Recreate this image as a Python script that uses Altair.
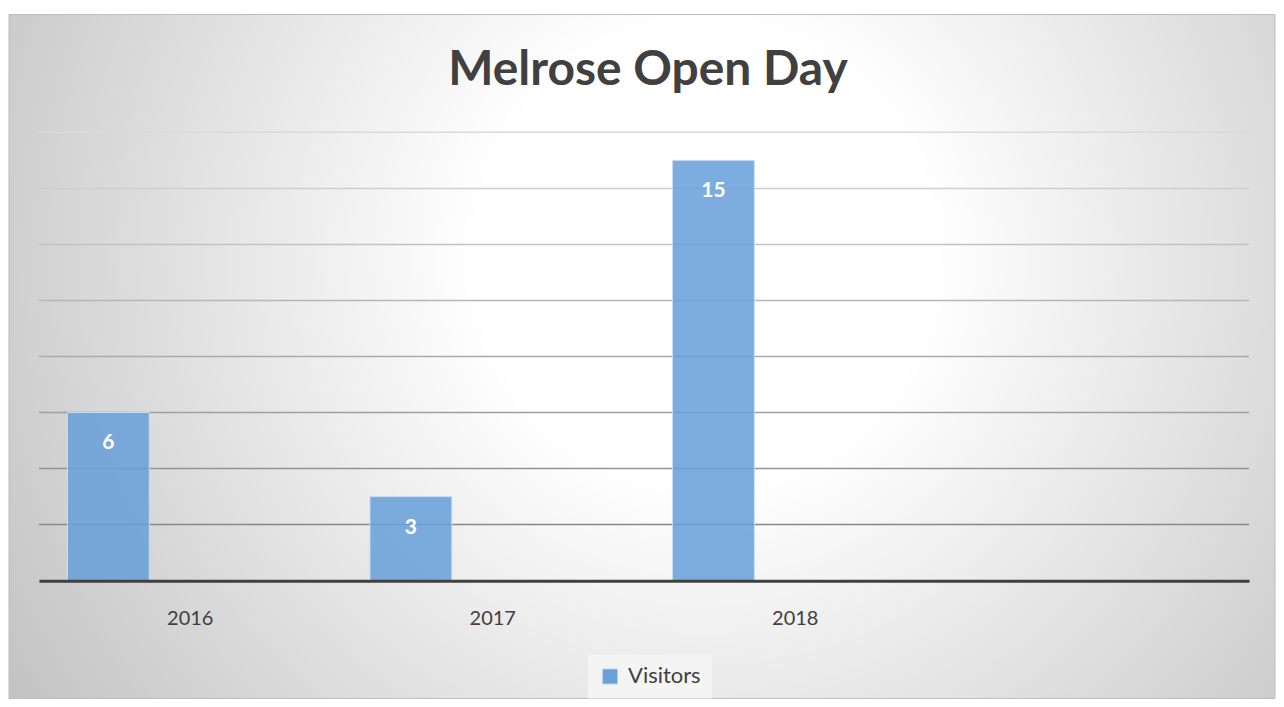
import altair as alt
import pandas as pd

# ---- data ----
categories = ["2016", "2017", "2018", ""]
years = ["2016", "2017", "2018"]
visitors = [6, 3, 15]
series_names = ["Visitors", "_s2", "_s3"]
grid_values = [2, 4, 6, 8, 10, 12, 14, 16]
chart_title = "Melrose Open Day"

FONT = "Lato"
TXT = "#404040"

bars_df = pd.DataFrame({"year": years, "value": visitors, "series": ["Visitors"] * len(years)})
grid_df = pd.DataFrame({"value": grid_values})
one_df = pd.DataFrame({"a": [0]})

yscale = alt.Scale(domain=[0, 16])
xscale = alt.Scale(domain=categories, paddingInner=0, paddingOuter=0)
xoff_scale = alt.Scale(domain=series_names, paddingInner=0, paddingOuter=0.348)

bg = alt.Chart(one_df).mark_rect(
    fill={
        "gradient": "radial",
        "x1": 0.55, "y1": 0.42, "r1": 0,
        "x2": 0.55, "y2": 0.42, "r2": 0.64,
        "stops": [
            {"offset": 0.0, "color": "#ffffff"},
            {"offset": 0.28, "color": "#ffffff"},
            {"offset": 1.0, "color": "#c4c4c4"},
        ],
    },
    stroke="#bdbdbd",
    strokeWidth=1,
).encode(
    x=alt.value(-30), x2=alt.value(1238), y=alt.value(-118), y2=alt.value(567)
)

title = alt.Chart(one_df).mark_text(
    fontSize=48, font=FONT, fontWeight="bold", color=TXT, align="center", baseline="alphabetic"
).encode(
    x=alt.value(610), y=alt.value(-47), text=alt.value(chart_title)
)

grid = alt.Chart(grid_df).mark_rule(strokeWidth=1.5).encode(
    y=alt.Y("value:Q", scale=yscale, axis=None),
    stroke=alt.Stroke("value:Q", scale=alt.Scale(domain=[2, 16], range=["#888888", "#dadada"]), legend=None),
)

base = alt.Chart(bars_df).encode(
    x=alt.X(
        "year:N",
        scale=xscale,
        sort=categories,
        axis=alt.Axis(
            title=None, labelAngle=0, ticks=False, grid=False,
            domainColor=TXT, domainWidth=3, labelFontSize=20, labelColor=TXT,
            labelFont=FONT, labelPadding=28, zindex=1,
        ),
    ),
    xOffset=alt.XOffset("series:N", scale=xoff_scale),
    y=alt.Y("value:Q", scale=yscale, axis=None),
)

bars = base.mark_bar(stroke="#c9def2", strokeWidth=1, fillOpacity=0.86).encode(
    color=alt.Color(
        "series:N",
        scale=alt.Scale(domain=["Visitors"], range=["#68a0d8"]),
        legend=alt.Legend(
            title=None, orient="none", legendX=550, legendY=523,
            fillColor="#f4f4f4", padding=11, symbolType="square", symbolSize=225,
            symbolStrokeColor="#b8d3ee", symbolStrokeWidth=1,
            labelFontSize=22, labelColor=TXT, labelFont=FONT, labelOffset=7,
            zindex=1,
        ),
    )
)

labels = base.mark_text(
    color="white", fontWeight="bold", fontSize=21, font=FONT, dy=31, baseline="middle"
).encode(text=alt.Text("value:Q"))

chart = alt.layer(bg, grid, bars, labels, title).properties(
    width=1212,
    height=449,
    padding={"left": 0, "top": 5, "right": 0, "bottom": 0},
).configure_view(stroke=None)

chart.save("out.html", embed_options={"renderer": "svg", "actions": False})
